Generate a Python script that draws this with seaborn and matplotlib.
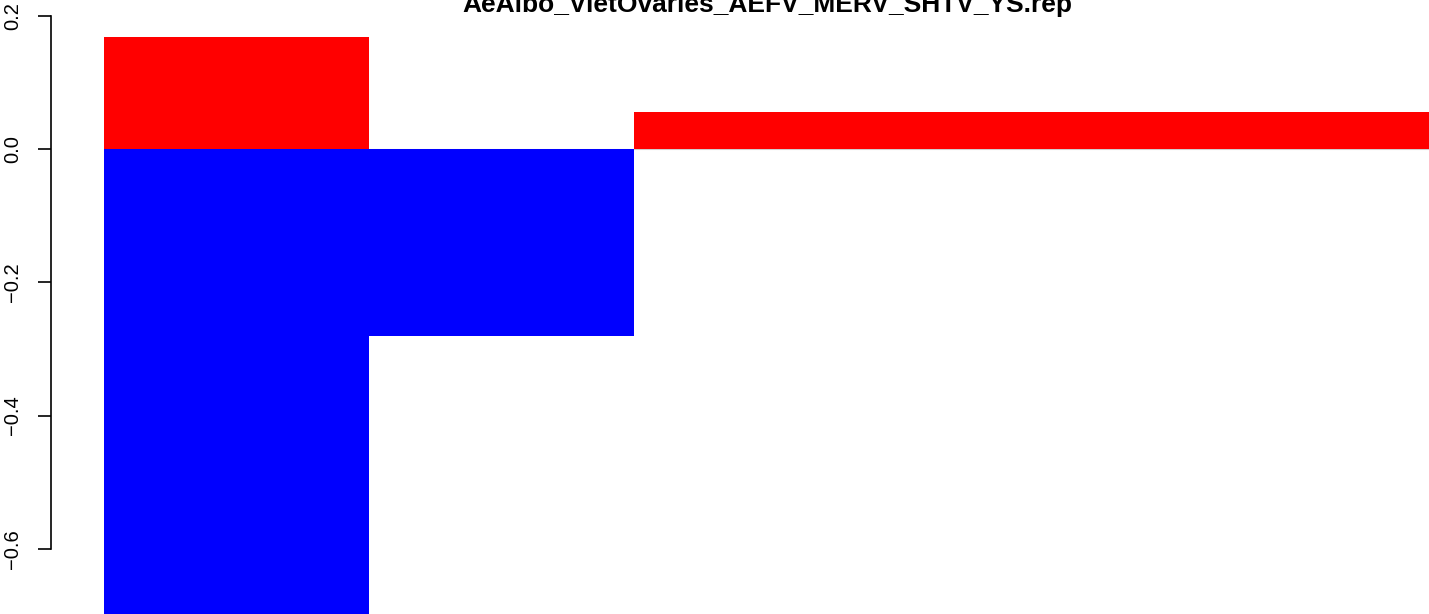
import matplotlib
matplotlib.use("Agg")
import matplotlib.pyplot as plt
import seaborn as sns
import numpy as np

# values
categories = ["1", "2", "3", "4", "5"]
up_values = [0.168, 0.0, 0.056, 0.056, 0.056]
down_values = [-0.72, -0.281, 0.0, 0.0, 0.0]
y_ticks = [-0.6, -0.4, -0.2, 0.0, 0.2]
title = "AeAlbo_VietOvaries_AEFV_MERV_SHTV_YS.rep"

sns.set_style("white")
plt.rcParams["font.family"] = ["Liberation Sans", "DejaVu Sans"]
plt.rcParams["text.color"] = "black"
plt.rcParams["ytick.color"] = "black"
plt.rcParams["axes.edgecolor"] = "black"

W, H = 1429, 614
fig = plt.figure(figsize=(W / 100, H / 100), dpi=100)

# R-style limits: data range padded by 4 percent each side
span = max(up_values) - min(down_values)
ytop = max(up_values) + 0.04 * span
ybot = min(down_values) - 0.04 * span
n = len(categories)
xl, xr = -0.5 - 0.04 * n, n - 0.5 + 0.04 * n

# plot region (the reference is a crop of a bigger R device)
px_unit_y = 666.5
zero_px = 149
top_px = zero_px - ytop * px_unit_y
h_px = (ytop - ybot) * px_unit_y
left_px, right_px = 51, 1483
ax = fig.add_axes([left_px / W, 1 - (top_px + h_px) / H,
                   (right_px - left_px) / W, h_px / H])

ax.hlines(0, -0.5, n - 0.5, color="#cfcfcf", lw=0.8, zorder=0)
sns.barplot(x=categories, y=up_values, color="#ff0000", saturation=1,
            width=1, linewidth=0, errorbar=None, ax=ax, zorder=2)
sns.barplot(x=categories, y=down_values, color="#0000ff", saturation=1,
            width=1, linewidth=0, errorbar=None, ax=ax, zorder=2)

ax.set_xlim(xl, xr)
ax.set_ylim(ybot, ytop)
ax.set_xticks([])
ax.set_xlabel("")
ax.set_ylabel("")
ax.set_yticks(y_ticks)
for s in ["top", "right", "bottom"]:
    ax.spines[s].set_visible(False)
ax.spines["left"].set_bounds(min(y_ticks), max(y_ticks))
ax.spines["left"].set_linewidth(1.2)
ax.spines["left"].set_color("black")
ax.tick_params(axis="y", left=True, length=9.4, width=1.2, pad=11.5,
               labelsize=14.5, color="black", labelcolor="black")
for lab in ax.get_yticklabels():
    lab.set_rotation(90)
    lab.set_va("center")
ax.patch.set_alpha(0)

fig.text(767 / W, 1 - 12.3 / H, title, ha="center", va="baseline",
         fontsize=19, fontweight="bold", color="black")

fig.savefig("out.png", dpi=100)
